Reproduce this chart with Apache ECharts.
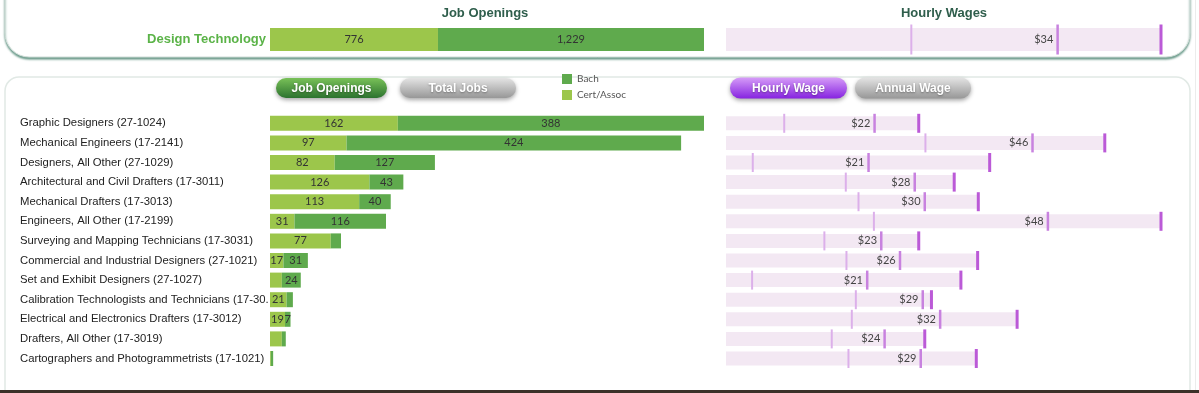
<!DOCTYPE html>
<html><head><meta charset="utf-8">
<script src="https://cdn.jsdelivr.net/npm/echarts@6/dist/echarts.min.js"></script>
<style>html,body{margin:0;padding:0;background:#fff;}#c{width:1199px;height:393px;}</style>
</head><body><div id="c"></div>
<script>
// ---- data ----
const summaryLabel = ['Design Technology'];
const summaryCert = [776];
const summaryBach = [1229];
const summaryWageLow = [19.0];
const summaryWageMedian = [34.0];
const summaryWageHigh = [44.6];

const occupations = [
  'Graphic Designers (27-1024)',
  'Mechanical Engineers (17-2141)',
  'Designers, All Other (27-1029)',
  'Architectural and Civil Drafters (17-3011)',
  'Mechanical Drafters (17-3013)',
  'Engineers, All Other (17-2199)',
  'Surveying and Mapping Technicians (17-3031)',
  'Commercial and Industrial Designers (27-1021)',
  'Set and Exhibit Designers (27-1027)',
  'Calibration Technologists and Technicians (17-3028)',
  'Electrical and Electronics Drafters (17-3012)',
  'Drafters, All Other (17-3019)',
  'Cartographers and Photogrammetrists (17-1021)'
];
const certAssoc = [162, 97, 82, 126, 113, 31, 77, 17, 15, 21, 19, 15, 1];
const bach      = [388, 424, 127, 43, 40, 116, 13, 31, 24, 8, 7, 5, 3];
const hiddenCertLabels = [8, 11, 12];
const hiddenBachLabels = [6, 9, 11, 12];
const wageLow    = [8.7, 29.8, 4.0, 17.9, 19.8, 22.1, 14.7, 18.0, 3.9, 19.4, 18.8, 15.8, 18.3];
const wageMedian = [22.2, 45.8, 21.3, 28.2, 29.7, 48.1, 23.2, 26.0, 21.1, 29.4, 32.0, 23.7, 29.1];
const wageHigh   = [28.8, 56.6, 39.4, 34.1, 37.7, 65.0, 28.8, 37.6, 35.1, 30.7, 43.5, 29.7, 37.4];

const titles = ['Job Openings', 'Hourly Wages'];
const buttons = ['Job Openings', 'Total Jobs', 'Hourly Wage', 'Annual Wage'];
const legendNames = ['Bach', 'Cert/Assoc'];

// ---- styles ----
const LIGHT = '#9cc64b', DARK = '#5faa4d';
const W_BG = '#f3e8f3', W_LOW = '#dcb0ea', W_MED = '#c882df', W_HIGH = '#bb5ad7';
const valFont = 'Lato, "Open Sans", sans-serif';
const fmt = v => v.toLocaleString('en-US');

function pts(arr) { return arr.map((v, i) => [v, i]); }
function hideIdx(arr, hidden) {
  return arr.map((v, i) => hidden.indexOf(i) >= 0 ? { value: v, label: { show: false } } : v);
}
function grad(c1, c2) {
  return new echarts.graphic.LinearGradient(0, 0, 0, 1, [{ offset: 0, color: c1 }, { offset: 1, color: c2 }]);
}
function button(x, y, w, h, text, c1, c2) {
  return {
    type: 'group', z: 5,
    children: [
      { type: 'rect', shape: { x: x, y: y, width: w, height: h, r: h / 2 },
        style: { fill: grad(c1, c2), shadowBlur: 4, shadowOffsetY: 2, shadowColor: 'rgba(0,0,0,0.35)' } },
      { type: 'text', style: { x: x + w / 2, y: y + h / 2 + 0.5, text: text, align: 'center', verticalAlign: 'middle',
        fill: '#fff', font: 'bold 12px "Liberation Sans", Arial, sans-serif',
        textShadowColor: 'rgba(0,0,0,0.35)', textShadowBlur: 2, textShadowOffsetY: 1 } }
    ]
  };
}

const hiddenAxis = { axisLine: { show: false }, axisTick: { show: false }, axisLabel: { show: false }, splitLine: { show: false } };

const chart = echarts.init(document.getElementById('c'), null, { renderer: 'canvas' });
const option = {
  animation: false,
  backgroundColor: '#fff',
  graphic: [
    { type: 'rect', z: -1, shape: { x: 5, y: -40, width: 1185, height: 97, r: [0, 0, 24, 24] },
      style: { fill: '#fff', stroke: '#d3dfda', lineWidth: 1, shadowBlur: 2, shadowOffsetY: 2, shadowColor: 'rgba(70,130,110,0.8)' } },
    { type: 'rect', z: -1, shape: { x: 5, y: 77, width: 1185, height: 340, r: 14 },
      style: { fill: '#fff', stroke: '#e1e9e5', lineWidth: 1.5 } },
    { type: 'rect', z: -1, shape: { x: 1195, y: 0, width: 1, height: 390 }, style: { fill: '#ececec' } },
    { type: 'rect', z: 10, shape: { x: 0, y: 390, width: 1199, height: 3 }, style: { fill: '#3b3129' } },
    { type: 'text', z: 5, style: { x: 485, y: 13, text: titles[0], align: 'center', verticalAlign: 'middle',
      fill: '#2f5e4c', font: 'bold 13px "Liberation Sans", Arial, sans-serif' } },
    { type: 'text', z: 5, style: { x: 944, y: 13, text: titles[1], align: 'center', verticalAlign: 'middle',
      fill: '#2f5e4c', font: 'bold 13px "Liberation Sans", Arial, sans-serif' } },
    button(276, 78, 111, 20, buttons[0], '#79c158', '#2c732f'),
    button(400, 78, 116, 20, buttons[1], '#e4e4e4', '#979797'),
    button(730, 77.5, 117, 21, buttons[2], '#d69cf8', '#8623e0'),
    button(855, 77.5, 116, 21, buttons[3], '#e4e4e4', '#979797')
  ],
  legend: {
    data: legendNames, orient: 'vertical', left: 557, top: 69, itemWidth: 10, itemHeight: 10, itemGap: 6,
    icon: 'rect', selectedMode: false,
    textStyle: { fontSize: 10, color: '#555', fontFamily: valFont }
  },
  grid: [
    { left: 270, top: 28, width: 434, height: 23 },
    { left: 726, top: 28, width: 435, height: 23 },
    { left: 270, top: 113.5, width: 434, height: 254.8 },
    { left: 726, top: 113.5, width: 435, height: 254.8 }
  ],
  xAxis: [
    Object.assign({ type: 'value', gridIndex: 0, min: 0, max: v => v.max }, hiddenAxis),
    Object.assign({ type: 'value', gridIndex: 1, min: 0, max: v => v.max }, hiddenAxis),
    Object.assign({ type: 'value', gridIndex: 2, min: 0, max: v => v.max }, hiddenAxis),
    Object.assign({ type: 'value', gridIndex: 3, min: 0, max: v => v.max }, hiddenAxis)
  ],
  yAxis: [
    { type: 'category', gridIndex: 0, data: summaryLabel, axisLine: { show: false }, axisTick: { show: false },
      axisLabel: { color: '#5bb348', fontWeight: 'bold', fontSize: 13, margin: 4, fontFamily: '"Liberation Sans", Arial, sans-serif' } },
    Object.assign({ type: 'category', gridIndex: 1, data: summaryLabel }, hiddenAxis),
    { type: 'category', gridIndex: 2, data: occupations, inverse: true, axisLine: { show: false }, axisTick: { show: false },
      axisLabel: { align: 'left', margin: 250, width: 254, overflow: 'truncate', ellipsis: '.', color: '#222', fontSize: 11.3,
        fontFamily: '"Liberation Sans", Arial, sans-serif' } },
    Object.assign({ type: 'category', gridIndex: 3, data: occupations, inverse: true }, hiddenAxis)
  ],
  series: [
    { name: 'Cert/Assoc', type: 'bar', xAxisIndex: 0, yAxisIndex: 0, stack: 'top', barWidth: 23, data: summaryCert,
      itemStyle: { color: LIGHT }, label: { show: true, position: 'inside', color: '#333', fontSize: 11, fontFamily: valFont, formatter: p => fmt(p.value) } },
    { name: 'Bach', type: 'bar', xAxisIndex: 0, yAxisIndex: 0, stack: 'top', barWidth: 23, data: summaryBach,
      itemStyle: { color: DARK }, label: { show: true, position: 'inside', color: '#333', fontSize: 11, fontFamily: valFont, formatter: p => fmt(p.value) } },

    { name: 'High', type: 'bar', xAxisIndex: 1, yAxisIndex: 1, barWidth: 23, data: summaryWageHigh, silent: true,
      itemStyle: { color: W_BG } },
    { name: 'Low', type: 'scatter', xAxisIndex: 1, yAxisIndex: 1, data: pts(summaryWageLow), symbol: 'rect', symbolSize: [2, 30],
      itemStyle: { color: W_LOW, opacity: 1 } },
    { name: 'Median', type: 'scatter', xAxisIndex: 1, yAxisIndex: 1, data: pts(summaryWageMedian), symbol: 'rect', symbolSize: [2.5, 30],
      itemStyle: { color: W_MED, opacity: 1 },
      label: { show: true, position: 'left', distance: 3, color: '#444', fontSize: 11, fontFamily: valFont, formatter: p => '$' + Math.round(p.value[0]) } },
    { name: 'HighMark', type: 'scatter', xAxisIndex: 1, yAxisIndex: 1, data: pts(summaryWageHigh), symbol: 'rect', symbolSize: [3, 30],
      itemStyle: { color: W_HIGH, opacity: 1 } },

    { name: 'Cert/Assoc', type: 'bar', xAxisIndex: 2, yAxisIndex: 2, stack: 'occ', barWidth: 15, data: hideIdx(certAssoc, hiddenCertLabels),
      itemStyle: { color: LIGHT }, label: { show: true, position: 'inside', color: '#333', fontSize: 11, fontFamily: valFont } },
    { name: 'Bach', type: 'bar', xAxisIndex: 2, yAxisIndex: 2, stack: 'occ', barWidth: 15, data: hideIdx(bach, hiddenBachLabels),
      itemStyle: { color: DARK }, label: { show: true, position: 'inside', color: '#333', fontSize: 11, fontFamily: valFont } },

    { name: 'High', type: 'bar', xAxisIndex: 3, yAxisIndex: 3, barWidth: 14, data: wageHigh, silent: true,
      itemStyle: { color: W_BG } },
    { name: 'Low', type: 'scatter', xAxisIndex: 3, yAxisIndex: 3, data: pts(wageLow), symbol: 'rect', symbolSize: [2, 19],
      itemStyle: { color: W_LOW, opacity: 1 } },
    { name: 'Median', type: 'scatter', xAxisIndex: 3, yAxisIndex: 3, data: pts(wageMedian), symbol: 'rect', symbolSize: [2.5, 19],
      itemStyle: { color: W_MED, opacity: 1 },
      label: { show: true, position: 'left', distance: 3, color: '#444', fontSize: 11, fontFamily: valFont, formatter: p => '$' + Math.round(p.value[0]) } },
    { name: 'HighMark', type: 'scatter', xAxisIndex: 3, yAxisIndex: 3, data: pts(wageHigh), symbol: 'rect', symbolSize: [3, 19],
      itemStyle: { color: W_HIGH, opacity: 1 } }
  ]
};
chart.setOption(option);
</script>
</body></html>
